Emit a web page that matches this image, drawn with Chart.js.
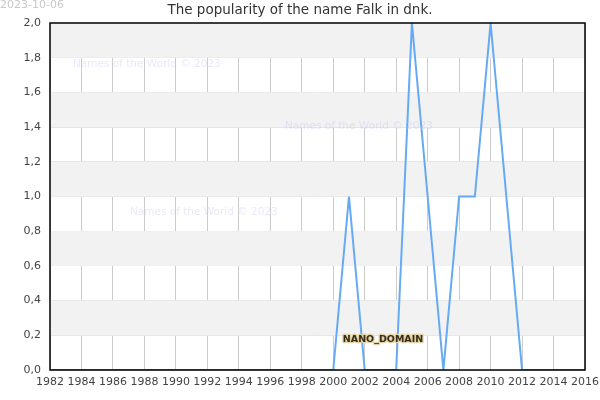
<!DOCTYPE html>
<html>
<head>
<meta charset="utf-8">
<script src="https://cdn.jsdelivr.net/npm/chart.js@4/dist/chart.umd.min.js"></script>
<style>
  html, body { margin: 0; padding: 0; background: #fff; }
  #box { width: 600px; height: 400px; }
</style>
</head>
<body>
<div id="box"><canvas id="chart"></canvas></div>
<script>
const years = []
for (let y = 1982; y <= 2016; y++) years.push(y)
const counts = [0,0,0,0,0,0,0,0,0,0,0,0,0,0,0,0,0,0,0,1,0,0,0,2,1,0,1,1,2,1,0,0,0,0,0]
const yTicks = [0, 0.2, 0.4, 0.6, 0.8, 1.0, 1.2, 1.4, 1.6, 1.8, 2.0]
const titleText = 'The popularity of the name Falk in dnk.'
const stamp = '2023-10-06'
const watermark = 'Names of the World © 2023'

// grey bands + frame + texts around the plot
const decor = {
    id: 'decor',
    beforeDatasetsDraw(chart) {
        const {ctx, chartArea: a, scales: {y}} = chart
        ctx.save()
        ctx.fillStyle = '#f2f2f2'
        for (let i = 0; i < yTicks.length - 1; i++) {
            if ((yTicks.length - 2 - i) % 2 !== 0) continue
            const t = y.getPixelForValue(yTicks[i + 1])
            const b = y.getPixelForValue(yTicks[i])
            ctx.fillRect(a.left, t, a.right - a.left, b - t)
        }
        ctx.restore()
    },
    beforeDraw(chart) {
        const {ctx} = chart
        ctx.save()
        ctx.fillStyle = '#fff'
        ctx.fillRect(0, 0, chart.width, chart.height)
        ctx.restore()
    },
    afterDraw(chart) {
        const {ctx, chartArea: a} = chart
        ctx.save()
        ctx.strokeStyle = '#000'
        ctx.lineWidth = 1.5
        ctx.strokeRect(a.left, a.top, a.right - a.left, a.bottom - a.top)

        ctx.font = '10.5px "DejaVu Sans"'
        ctx.fillStyle = 'rgba(190,190,240,0.35)'
        ctx.textBaseline = 'middle'
        ctx.textAlign = 'left'
        ctx.fillText(watermark, 73, 64)
        ctx.fillText(watermark, 285, 126)
        ctx.fillText(watermark, 130, 212)

        ctx.fillStyle = '#c8c8c8'
        ctx.font = '11px "DejaVu Sans"'
        ctx.fillText(stamp, 0, 5)

        ctx.fillStyle = '#333'
        ctx.font = '13.5px "DejaVu Sans"'
        ctx.textAlign = 'center'
        ctx.fillText(titleText, 300, 10)

        ctx.font = 'bold 9.5px "DejaVu Sans"'
        ctx.lineWidth = 2.5
        ctx.strokeStyle = '#e0d2a8'
        ctx.lineJoin = 'round'
        ctx.strokeText('NANO_DOMAIN', 383, 340)
        ctx.fillStyle = '#3a2c14'
        ctx.fillText('NANO_DOMAIN', 383, 340)
        ctx.restore()
    }
}

new Chart(document.getElementById('chart'), {
    type: 'line',
    data: {
        datasets: [{
            data: years.map((yr, i) => ({x: yr, y: counts[i]})),
            borderColor: '#66aaf5',
            borderWidth: 2,
            pointRadius: 0,
            tension: 0,
            fill: false
        }]
    },
    options: {
        responsive: true,
        maintainAspectRatio: false,
        animation: false,
        layout: {padding: {top: 23, right: 15, left: 0, bottom: 0}},
        plugins: {legend: {display: false}, tooltip: {enabled: false}},
        scales: {
            x: {
                type: 'linear',
                min: 1982,
                max: 2016,
                afterFit: s => { s.height = 30; s.paddingRight = 0; s.paddingLeft = 0 },
                afterBuildTicks: s => { s.ticks = years.filter(v => v % 2 === 0).map(v => ({value: v})) },
                ticks: {
                    callback: v => String(v),
                    color: '#444',
                    font: {family: 'DejaVu Sans', size: 11},
                    maxRotation: 0,
                    autoSkip: false,
                    padding: 6
                },
                grid: {color: '#cccccc', drawTicks: false},
                border: {display: false}
            },
            y: {
                min: 0,
                max: 2,
                afterFit: s => { s.width = 50 },
                afterBuildTicks: s => { s.ticks = yTicks.map(v => ({value: v})) },
                ticks: {
                    callback: v => v.toFixed(1).replace('.', ','),
                    color: '#444',
                    font: {family: 'DejaVu Sans', size: 11},
                    padding: 9
                },
                grid: {color: '#e2e2e2', drawTicks: false},
                border: {display: false}
            }
        }
    },
    plugins: [decor]
})
</script>
</body>
</html>
